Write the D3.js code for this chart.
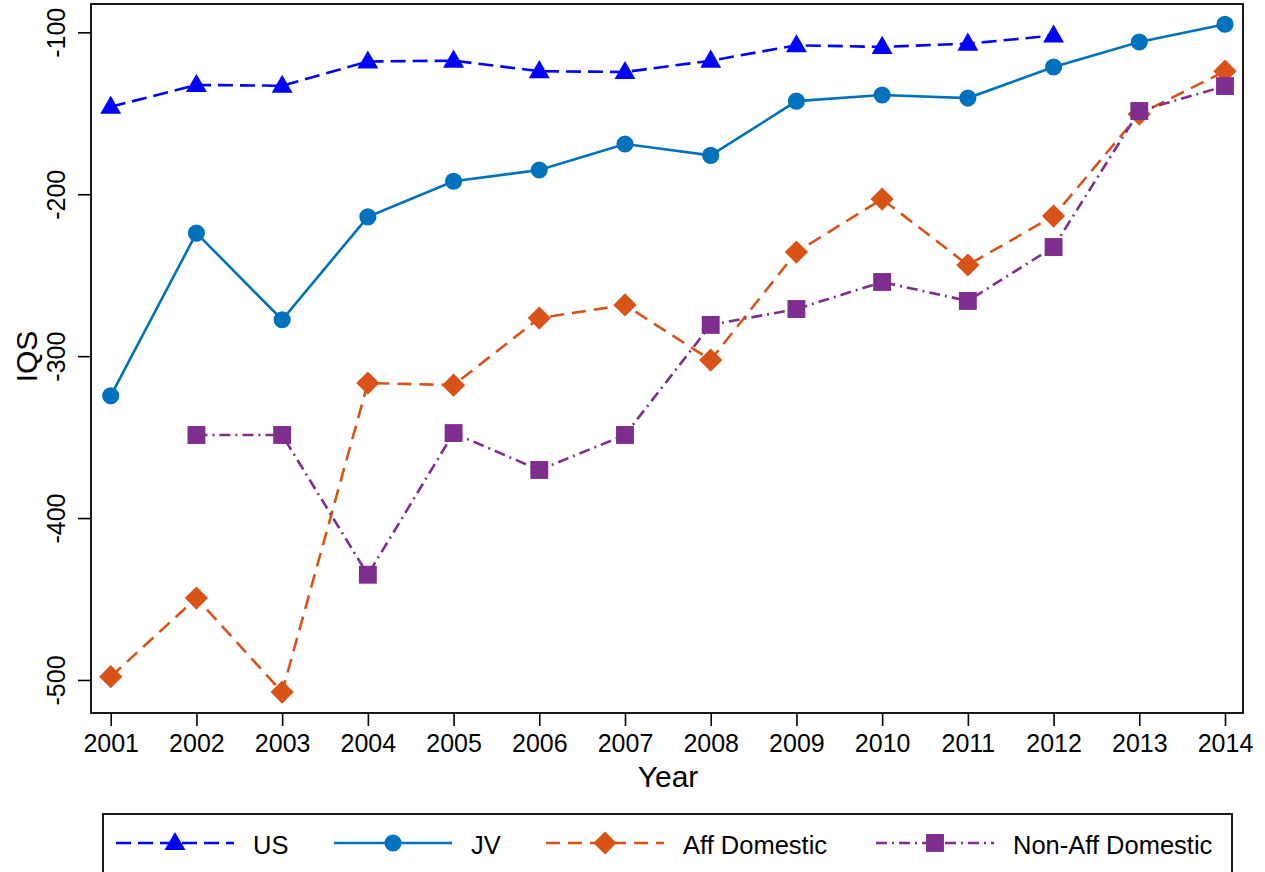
<!DOCTYPE html>
<html>
<head>
<meta charset="utf-8">
<script src="https://cdn.jsdelivr.net/npm/d3@7"></script>
<style>
  html, body { margin: 0; padding: 0; background: #fff; }
  svg { display: block; font-family: "Liberation Sans", Arial, Helvetica, sans-serif; }
</style>
</head>
<body>
<svg id="chart" width="1265" height="872"></svg>
<script>
// ---- Data ----
const years = [2001, 2002, 2003, 2004, 2005, 2006, 2007, 2008, 2009, 2010, 2011, 2012, 2013, 2014];
const usValues = [-146, -132.5, -133, -118, -117.5, -124, -124.5, -117.5, -108, -109, -107, -102, null, null];
const jvValues = [-324.5, -224, -277.5, -214, -192, -185, -169, -176, -142.5, -138.7, -140.6, -121.4, -106, -95];
const affValues = [-498, -449.4, -507.5, -316.6, -317.9, -276.5, -268.4, -302.4, -235.7, -203, -243.7, -213.5, -150.5, -124];
const nonAffValues = [null, -348.7, -348.7, -435, -347.5, -370.3, -348.7, -280.7, -270.9, -254.2, -265.9, -232.6, -148.6, -133.2];
const yTicks = [-100, -200, -300, -400, -500];
const seriesNames = ["US", "JV", "Aff Domestic", "Non-Aff Domestic"];

const series = [
  { name: seriesNames[0], values: usValues, color: "#0000FF", dash: "15,7", marker: "triangle" },
  { name: seriesNames[1], values: jvValues, color: "#0072BD", dash: null, marker: "circle" },
  { name: seriesNames[2], values: affValues, color: "#D95319", dash: "14,8", marker: "diamond" },
  { name: seriesNames[3], values: nonAffValues, color: "#7E2F8E", dash: "11,5,2,5", marker: "square" }
];

// ---- Layout ----
const L = 91, R = 1243, T = 4, B = 713;
const svg = d3.select("#chart");

const x = d3.scaleLinear().domain([2000.77, 2014.21]).range([L, R]);
const y = d3.scaleLinear().domain([-520.4, -82.5]).range([B, T]);

const symbolFor = {
  triangle: d3.symbol().type(d3.symbolTriangle).size(190),
  circle: d3.symbol().type(d3.symbolCircle).size(230),
  diamond: d3.symbol().type(d3.symbolSquare).size(270),
  square: d3.symbol().type(d3.symbolSquare).size(320)
};
function markerTransform(m, cx, cy) {
  if (m === "diamond") return `translate(${cx},${cy}) rotate(45)`;
  if (m === "triangle") return `translate(${cx},${cy + 1})`;
  return `translate(${cx},${cy})`;
}

// ---- Axes ----
const xAxis = d3.axisBottom(x).tickValues(years).tickFormat(d => String(d)).tickSizeOuter(0).tickSize(13).tickPadding(8);
const gx = svg.append("g").attr("transform", `translate(0,${B})`).call(xAxis);
gx.select(".domain").remove();
gx.selectAll("line").attr("stroke", "#000").attr("stroke-width", 1.6);
gx.selectAll("text").attr("font-size", 25).attr("fill", "#000")
  .attr("font-family", "'Liberation Sans', Arial, sans-serif");

const yAxis = d3.axisLeft(y).tickValues(yTicks).tickFormat(d => String(d)).tickSizeOuter(0).tickSize(13).tickPadding(0);
const gy = svg.append("g").attr("transform", `translate(${L},0)`).call(yAxis);
gy.select(".domain").remove();
gy.selectAll("line").attr("stroke", "#000").attr("stroke-width", 1.6);
gy.selectAll("text")
  .attr("font-size", 25).attr("fill", "#000")
  .attr("font-family", "'Liberation Sans', Arial, sans-serif")
  .attr("x", null).attr("dy", null)
  .attr("text-anchor", "middle")
  .attr("transform", "translate(-26,0) rotate(-90)");

// Frame
svg.append("rect").attr("x", L).attr("y", T).attr("width", R - L).attr("height", B - T)
  .attr("fill", "none").attr("stroke", "#000").attr("stroke-width", 1.8);

// Axis titles
svg.append("text").attr("x", (L + R) / 2 + 1).attr("y", 787).attr("text-anchor", "middle")
  .attr("font-size", 30).attr("fill", "#000").text("Year");
svg.append("text").attr("transform", `translate(37,${(T + B) / 2 - 2}) rotate(-90)`)
  .attr("text-anchor", "middle").attr("font-size", 30).attr("fill", "#000").text("IQS");

// ---- Series ----
const plot = svg.append("g");
series.forEach(s => {
  const pts = years.map((yr, i) => ({ yr, v: s.values[i] })).filter(d => d.v != null);
  const line = d3.line().x(d => x(d.yr)).y(d => y(d.v));
  plot.append("path").datum(pts).attr("d", line)
    .attr("fill", "none").attr("stroke", s.color).attr("stroke-width", 2.6)
    .attr("stroke-dasharray", s.dash);
  plot.selectAll(null).data(pts).enter().append("path")
    .attr("d", symbolFor[s.marker]())
    .attr("transform", d => markerTransform(s.marker, x(d.yr), y(d.v)))
    .attr("fill", s.color);
});

// ---- Legend ----
const legendBox = { x: 103, y: 814, w: 1129, h: 70 };
const legendStarts = [116, 334, 546, 876];
const legendLineLen = 118;
const legendRowY = 843;
svg.append("rect").attr("x", legendBox.x).attr("y", legendBox.y).attr("width", legendBox.w).attr("height", legendBox.h)
  .attr("fill", "#fff").attr("stroke", "#000").attr("stroke-width", 1.8);
series.forEach((s, i) => {
  const x0 = legendStarts[i];
  const g = svg.append("g");
  g.append("line").attr("x1", x0).attr("x2", x0 + legendLineLen).attr("y1", legendRowY).attr("y2", legendRowY)
    .attr("stroke", s.color).attr("stroke-width", 2.6).attr("stroke-dasharray", s.dash);
  g.append("path").attr("d", symbolFor[s.marker]())
    .attr("transform", markerTransform(s.marker, x0 + legendLineLen / 2, legendRowY))
    .attr("fill", s.color);
  g.append("text").attr("x", x0 + legendLineLen + 19).attr("y", legendRowY + 11)
    .attr("font-size", 25.5).attr("fill", "#000").text(s.name);
});
</script>
</body>
</html>
